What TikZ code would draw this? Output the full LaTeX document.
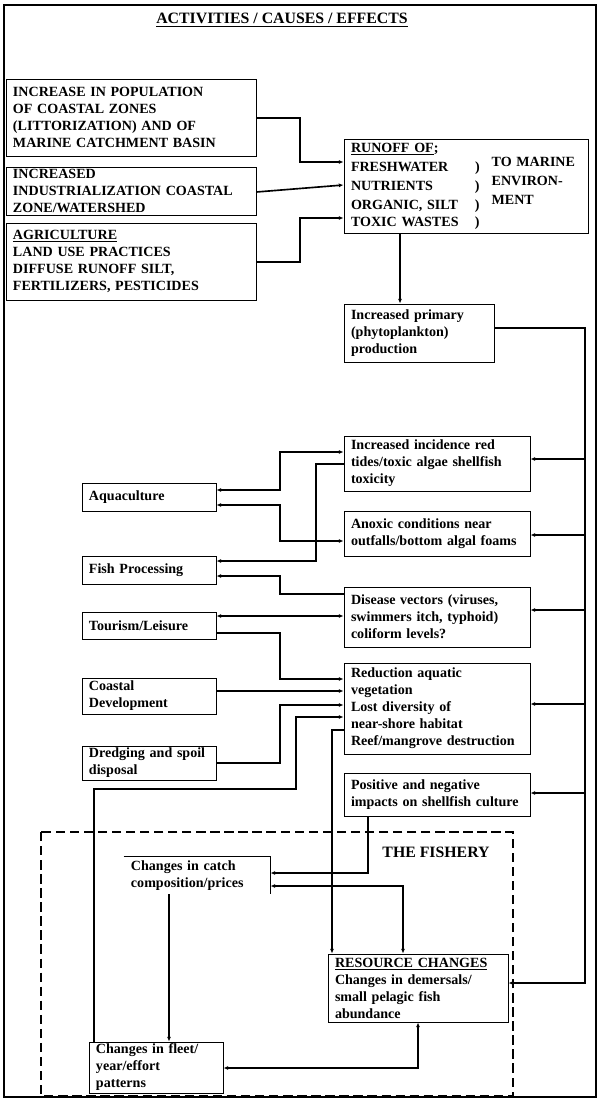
\documentclass[tikz,border=0pt]{standalone}
\usepackage{fontspec}
\setmainfont{Liberation Serif}
\usetikzlibrary{arrows.meta}

\begin{document}
\begin{tikzpicture}[x=0.03cm, y=-0.03cm, >={Latex[length=4pt,width=3.5pt]},
   font=\bfseries\fontsize{12}{14.5}\selectfont,
   box/.style={draw, line width=0.8pt, inner xsep=0.21cm, inner ysep=0pt, align=left},
   conn/.style={line width=1.4pt},
   heavy/.style={line width=2.2pt},
   head/.style={font=\bfseries\fontsize{13.5}{16}\selectfont}]
  \useasboundingbox (0,0) rectangle (599,1102);
  \draw[line width=1.6pt] (4,5) rectangle (596,1097);
  \draw[line width=1.6pt, dash pattern=on 8pt off 4pt] (41,832) rectangle (513,1096);
  \node[head] (title) at (282,20) {\underline{ACTIVITIES / CAUSES / EFFECTS}};
  \node[head] (fishery) at (436,852) {THE FISHERY};

  % causes
  \node[box, text width=7.08cm, minimum height=2.31cm] (pop) at (131,117.5)
    {INCREASE IN POPULATION\\OF COASTAL ZONES\\(LITTORIZATION) AND OF\\MARINE CATCHMENT BASIN};
  \node[box, text width=7.08cm, minimum height=1.44cm] (ind) at (131,191)
    {INCREASED\\INDUSTRIALIZATION COASTAL\\ZONE/WATERSHED};
  \node[box, text width=7.08cm, minimum height=2.31cm] (agr) at (131,261.5)
    {\underline{AGRICULTURE}\\LAND USE PRACTICES\\DIFFUSE RUNOFF SILT,\\FERTILIZERS, PESTICIDES};
  \node[box, text width=6.9cm, minimum height=2.82cm] (run) at (466,186)
    {\begin{tabular}{@{}p{3.72cm}@{}l@{\hspace{0.36cm}}l@{}}
      \underline{RUNOFF OF};\\
      FRESHWATER & ) & \raisebox{4pt}{TO MARINE}\\
      NUTRIENTS & ) & \raisebox{4pt}{ENVIRON-}\\
      ORGANIC, SILT & ) & \raisebox{4pt}{MENT}\\
      TOXIC WASTES & ) &
     \end{tabular}};
  \node[box, text width=4.08cm, minimum height=1.74cm] (prim) at (419,333)
    {Increased primary\\(phytoplankton)\\production};

  % effects
  \node[box, text width=5.16cm, minimum height=1.65cm] (red) at (437,463.5)
    {Increased incidence red\\tides/toxic algae shellfish\\toxicity};
  \node[box, text width=5.16cm, minimum height=1.35cm] (anox) at (437,533.5)
    {Anoxic conditions near\\outfalls/bottom algal foams};
  \node[box, text width=5.16cm, minimum height=1.8cm] (dis) at (437,617)
    {Disease vectors (viruses,\\swimmers itch, typhoid)\\coliform levels?};
  \node[box, text width=5.16cm, minimum height=2.73cm] (redu) at (437,708.5)
    {Reduction aquatic\\vegetation\\Lost diversity of\\near-shore habitat\\Reef/mangrove destruction};
  \node[box, text width=5.16cm, minimum height=1.29cm] (pos) at (437,794.5)
    {Positive and negative\\impacts on shellfish culture};

  % activities
  \node[box, text width=3.6cm, minimum height=0.84cm] (aqua) at (149,497) {Aquaculture};
  \node[box, text width=3.6cm, minimum height=0.84cm] (fishp) at (149,570) {Fish Processing};
  \node[box, text width=3.6cm, minimum height=0.81cm] (tour) at (149,625.5) {Tourism/Leisure};
  \node[box, text width=3.6cm, minimum height=1.08cm] (coast) at (149,696) {Coastal\\Development};
  \node[box, text width=3.6cm, minimum height=1.02cm] (dredge) at (149,763) {Dredging and spoil\\disposal};

  % fishery
  \node[box, draw=none, text width=3.96cm, minimum height=1.11cm] (catch) at (197,875.5)
    {Changes in catch\\composition/prices};
  \draw[line width=0.8pt] (catch.north west) -- (catch.north east) -- (catch.south east);
  \node[box, text width=3.6cm, minimum height=1.53cm] (fleet) at (156,1067.5)
    {Changes in fleet/\\year/effort\\patterns};
  \node[box, text width=4.98cm, minimum height=2.04cm] (res) at (418,988)
    {\underline{RESOURCE CHANGES}\\Changes in demersals/\\small pelagic fish\\abundance};

  % runoff
  \draw[conn,->] (pop.east |- 0,118) -| (300,162) -- (run.west |- 0,162);
  \draw[conn,->] (ind.east |- 0,192) -- (run.west |- 0,185);
  \draw[conn,->] (agr.east |- 0,262) -| (300,218) -- (run.west |- 0,218);
  \draw[heavy,->] (run.south -| 400,0) -- (prim.north -| 400,0);

  % right rail
  \coordinate (rail) at (585,328);
  \draw[conn,->] (prim.east |- rail) -- (rail) |- (res.east |- 0,983);
  \draw[conn,->] (rail |- 0,459) -- (red.east |- 0,459);
  \draw[conn,->] (rail |- 0,535) -- (anox.east |- 0,535);
  \draw[conn,->] (rail |- 0,610) -- (dis.east |- 0,610);
  \draw[conn,->] (rail |- 0,704) -- (redu.east |- 0,704);
  \draw[conn,->] (rail |- 0,793) -- (pos.east |- 0,793);

  % activities <-> effects
  \draw[heavy,<->] (red.west |- 0,452) -- (280,452) |- (aqua.east |- 0,490);
  \draw[conn,<->] (aqua.east |- 0,505) -| (280,541) -- (anox.west |- 0,541);
  \draw[heavy,->] (red.west |- 0,464) -| (316,561) -- (fishp.east |- 0,561);
  \draw[conn,->] (dis.west |- 0,594) -| (280,576) -- (fishp.east |- 0,576);
  \draw[conn,<->] (tour.east |- 0,616) -- (dis.west |- 0,616);
  \draw[conn,->] (tour.east |- 0,633) -| (280,679) -- (redu.west |- 0,679);
  \draw[conn,->] (coast.east |- 0,691) -- (redu.west |- 0,691);
  \draw[conn,->] (dredge.east |- 0,763) -| (280,705) -- (redu.west |- 0,705);
  \draw[heavy,->] (fleet.north -| 94,0) |- (296,789) |- (redu.west |- 0,717);
  \draw[conn,->] (redu.west |- 0,730) -| (res.north -| 332,0);

  % fishery links
  \draw[conn,->] (pos.south -| 368,0) |- (catch.east |- 0,873);
  \draw[heavy,<->] (catch.east |- 0,886) -| (res.north -| 403,0);
  \draw[conn,->] (catch.south -| 169,0) -- (fleet.north -| 169,0);
  \draw[conn,<->] (fleet.east |- 0,1068) -| (res.south -| 418,0);
\end{tikzpicture}
\end{document}
